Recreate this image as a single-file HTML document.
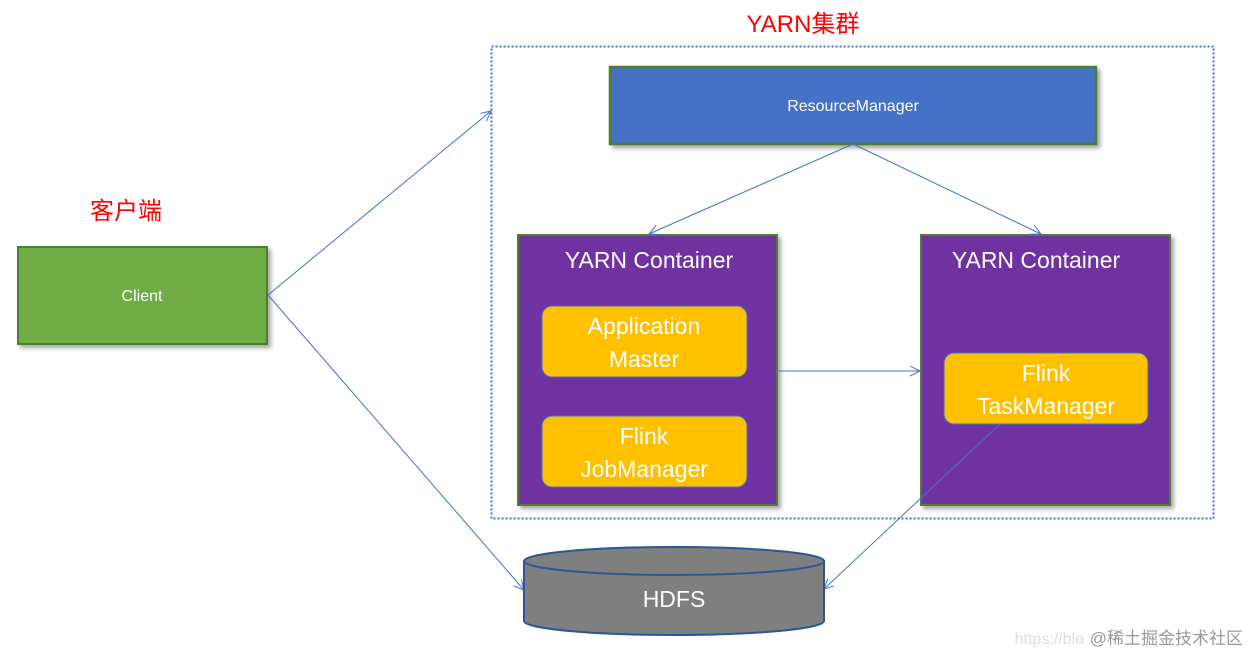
<!DOCTYPE html>
<html><head><meta charset="utf-8"><style>
body{margin:0;background:#fff}
svg{display:block}
text{font-family:"Liberation Sans","Noto Sans CJK SC",sans-serif}
</style></head><body>
<svg width="1250" height="655" viewBox="0 0 1250 655">
<defs>
<marker id="a" markerWidth="12" markerHeight="12" refX="10" refY="5" orient="auto" markerUnits="userSpaceOnUse"><path d="M0,0 L10,5 L0,10" fill="none" stroke="#4472c4" stroke-width="1"/></marker>
<filter id="s" x="-5%" y="-5%" width="115%" height="125%"><feDropShadow dx="3" dy="3" stdDeviation="2" flood-color="#000" flood-opacity="0.35"/></filter>
</defs>
<text x="803" y="32" fill="#ff0000" font-size="24" text-anchor="middle">YARN集群</text>
<rect x="491.5" y="46.5" width="722" height="472" fill="none" stroke="#4472c4" stroke-width="2" stroke-dasharray="2,2"/>
<text x="126" y="219" fill="#ff0000" font-size="24" text-anchor="middle">客户端</text>
<rect x="18" y="247" width="249" height="97" fill="#70ad47" stroke="#507e32" stroke-width="2" filter="url(#s)"/>
<text x="142" y="301" fill="#fff" font-size="16" text-anchor="middle">Client</text>
<rect x="610" y="67" width="486" height="77" fill="#4472c4" stroke="#507e32" stroke-width="2.5" filter="url(#s)"/>
<text x="853" y="111" fill="#fff" font-size="16" text-anchor="middle">ResourceManager</text>
<rect x="518" y="235" width="259" height="270" fill="#7030a0" stroke="#507e32" stroke-width="2" filter="url(#s)"/>
<text x="649" y="268" fill="#fff" font-size="23" text-anchor="middle">YARN Container</text>
<rect x="542" y="306" width="205" height="71" rx="10" fill="#ffc000" stroke="#4472c4" stroke-width="1"/>
<text x="644" y="334" fill="#fff" font-size="23" text-anchor="middle">Application</text>
<text x="644" y="367" fill="#fff" font-size="23" text-anchor="middle">Master</text>
<rect x="542" y="416" width="205" height="71" rx="10" fill="#ffc000" stroke="#4472c4" stroke-width="1"/>
<text x="644" y="444" fill="#fff" font-size="23" text-anchor="middle">Flink</text>
<text x="644" y="477" fill="#fff" font-size="23" text-anchor="middle">JobManager</text>
<rect x="921" y="235" width="249" height="270" fill="#7030a0" stroke="#507e32" stroke-width="2" filter="url(#s)"/>
<text x="1036" y="268" fill="#fff" font-size="23" text-anchor="middle">YARN Container</text>
<rect x="944" y="353" width="204" height="71" rx="10" fill="#ffc000" stroke="#4472c4" stroke-width="1"/>
<text x="1046" y="381" fill="#fff" font-size="23" text-anchor="middle">Flink</text>
<text x="1046" y="414" fill="#fff" font-size="23" text-anchor="middle">TaskManager</text>
<g stroke="#4472c4" stroke-width="1" fill="none">
<line x1="268" y1="295" x2="491" y2="111" marker-end="url(#a)"/>
<line x1="268" y1="295" x2="524" y2="590" marker-end="url(#a)"/>
<line x1="853" y1="144" x2="649" y2="234" marker-end="url(#a)"/>
<line x1="853" y1="144" x2="1041" y2="234" marker-end="url(#a)"/>
<line x1="777" y1="371" x2="920" y2="371" marker-end="url(#a)"/>
<line x1="1000" y1="424" x2="824" y2="589" marker-end="url(#a)"/>
</g>
<path d="M524,561 L524,621 A150,14 0 0 0 824,621 L824,561" fill="#7f7f7f" stroke="#2f5597" stroke-width="2"/>
<ellipse cx="674" cy="561" rx="150" ry="14" fill="#7f7f7f" stroke="#2f5597" stroke-width="2"/>
<text x="674" y="607" fill="#fff" font-size="23" text-anchor="middle">HDFS</text>
<text x="1084" y="644" fill="#ddd" font-size="16" text-anchor="end">https://blo</text>
<text x="1243" y="644" fill="#999" font-size="17" text-anchor="end">@稀土掘金技术社区</text>
</svg>
</body></html>
